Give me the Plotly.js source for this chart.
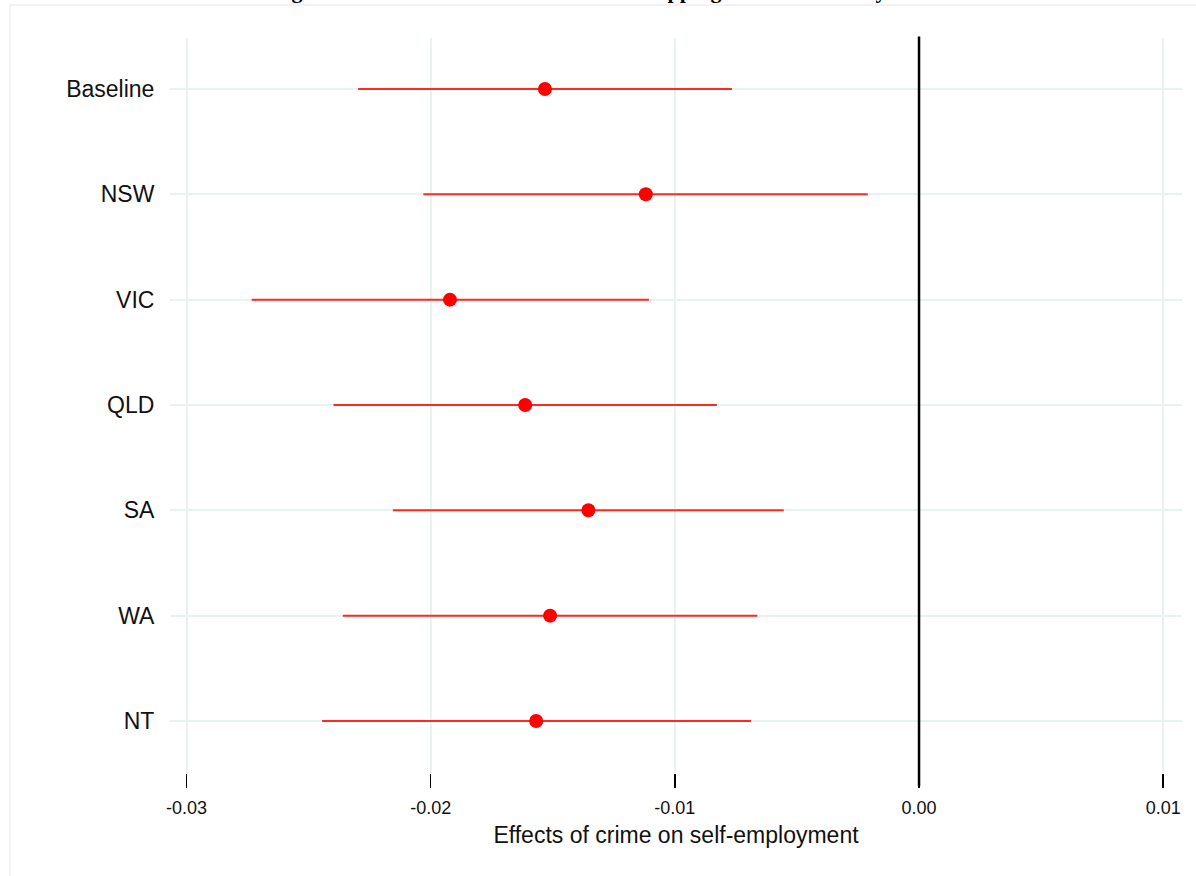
<!DOCTYPE html>
<html>
<head>
<meta charset="utf-8">
<script src="https://cdn.plot.ly/plotly-3.0.1.min.js"></script>
<style>html,body{margin:0;padding:0;background:#fff;}#chart{width:1196px;height:876px;}</style>
</head>
<body>
<div id="chart"></div>
<script>
var categories = ["Baseline", "NSW", "VIC", "QLD", "SA", "WA", "NT"];
var estimates  = [-0.01532, -0.01119, -0.01921, -0.01613, -0.01354, -0.01511, -0.01568];
var ciLower    = [-0.02297, -0.02030, -0.02733, -0.02398, -0.02155, -0.02360, -0.02445];
var ciUpper    = [-0.00766, -0.00210, -0.01106, -0.00828, -0.00554, -0.00662, -0.00688];
var xTickVals  = [-0.03, -0.02, -0.01, 0.00, 0.01];
var xTickText  = ["-0.03", "-0.02", "-0.01", "0.00", "0.01"];
var titleText  = "Figure 5: Robustness check results for dropping each state one by one";
var xTitle     = "Effects of crime on self-employment";

var errPlus = estimates.map(function(v, i){ return ciUpper[i] - v; });
var errMinus = estimates.map(function(v, i){ return v - ciLower[i]; });

var trace = {
  type: "scatter",
  mode: "markers",
  x: estimates,
  y: categories,
  marker: {color: "#ff0000", size: 14},
  error_x: {type: "data", symmetric: false, array: errPlus, arrayminus: errMinus,
            color: "#ff2a1f", thickness: 2, width: 0},
  hoverinfo: "x+y",
  showlegend: false
};

var L = 170, T = 38, W = 1012, H = 735;
function px2x(p){ return (p - L) / W; }
function py2y(p){ return (T + H - p) / H; }

var layout = {
  width: 1196, height: 876,
  margin: {l: L, r: 1196 - L - W, t: T, b: 876 - T - H, pad: 0},
  paper_bgcolor: "#ffffff",
  plot_bgcolor: "#ffffff",
  font: {family: "Liberation Sans, Arial, sans-serif", color: "#222"},
  xaxis: {
    range: [-0.030676, 0.010770],
    tickvals: xTickVals, ticktext: xTickText,
    showgrid: true, gridcolor: "#e9f1f3", gridwidth: 2,
    zeroline: false, showline: false,
    ticks: "outside", ticklen: 14, tickwidth: 1.5, tickcolor: "#000",
    ticklabelstandoff: 4,
    tickfont: {size: 18, color: "#111"},
    title: {text: xTitle, font: {size: 23, color: "#111"}, standoff: 10}
  },
  yaxis: {
    type: "category",
    categoryorder: "array", categoryarray: categories,
    range: [6.494, -0.484],
    showgrid: true, gridcolor: "#e9f1f3", gridwidth: 2,
    zeroline: false, showline: false,
    ticks: "outside", ticklen: 10, tickcolor: "rgba(0,0,0,0)",
    tickfont: {size: 23, color: "#111"}
  },
  shapes: [
    {type: "line", xref: "x", yref: "paper", x0: 0, x1: 0, y0: py2y(786), y1: 1.002,
     line: {color: "#000", width: 2.5}},
    {type: "rect", xref: "paper", yref: "paper", x0: px2x(10), x1: px2x(1205),
     y0: py2y(900), y1: py2y(5), line: {color: "#e6e6e6", width: 1}, layer: "below"}
  ],
  annotations: [
    {text: "<b>" + titleText + "</b>", xref: "paper", yref: "paper",
     x: px2x(598), y: py2y(5), xanchor: "center", yanchor: "bottom", showarrow: false,
     font: {family: "Liberation Serif, Times New Roman, serif", size: 22, color: "#000"}}
  ]
};

Plotly.newPlot("chart", [trace], layout, {displayModeBar: false, staticPlot: true});
</script>
</body>
</html>
